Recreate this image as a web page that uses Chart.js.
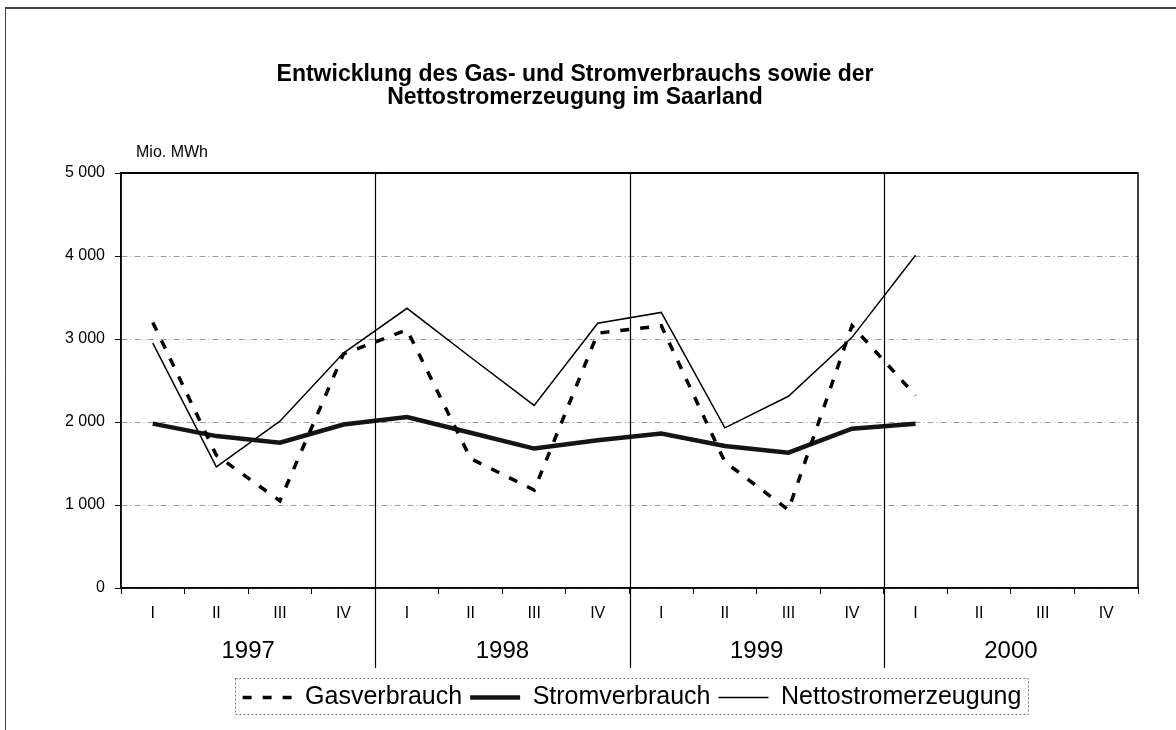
<!DOCTYPE html>
<html>
<head>
<meta charset="utf-8">
<script src="https://cdn.jsdelivr.net/npm/chart.js@4.4.1/dist/chart.umd.min.js"></script>
<style>
  html, body { margin: 0; padding: 0; background: #fff; }
  #wrap { width: 1176px; height: 730px; position: relative; }
</style>
</head>
<body>
<div id="wrap"><canvas id="c" width="1176" height="730"></canvas></div>
<script>
// ---- data ----
const QUARTERS = ['I','II','III','IV','I','II','III','IV','I','II','III','IV','I','II','III','IV'];
const YEARS = ['1997','1998','1999','2000'];
const Y_TICKS = [0, 1000, 2000, 3000, 4000, 5000];
const gasverbrauch = [3200, 1600, 1050, 2820, 3110, 1560, 1180, 3070, 3160, 1520, 940, 3160, 2320, null, null, null];
const stromverbrauch = [1980, 1830, 1750, 1970, 2060, 1870, 1680, 1780, 1860, 1710, 1630, 1920, 1980, null, null, null];
const nettostromerzeugung = [2950, 1460, 2010, 2830, 3370, 2780, 2200, 3190, 3320, 1930, 2310, 3020, 4010, null, null, null];
const TITLE = ['Entwicklung des Gas- und Stromverbrauchs sowie der', 'Nettostromerzeugung im Saarland'];
const UNIT = 'Mio. MWh';

const FONT = "'Liberation Sans', Arial, Helvetica, sans-serif";
const LEGEND_SHIFT = 57;

function fmt(v) { return String(v).replace(/\B(?=(\d{3})+$)/g, ' '); }

const decor = {
  id: 'decor',
  afterLayout(chart) {
    const lg = chart.legend;
    if (lg) { lg.left += LEGEND_SHIFT; lg.right += LEGEND_SHIFT; }
  },
  beforeDraw(chart) {
    const ctx = chart.ctx;
    ctx.save();
    ctx.fillStyle = '#fff';
    ctx.fillRect(0, 0, chart.width, chart.height);
    ctx.restore();
  },
  afterDraw(chart) {
    const ctx = chart.ctx, a = chart.chartArea, x = chart.scales.x;
    ctx.save();
    ctx.setLineDash([]);
    // plot border
    ctx.strokeStyle = '#000';
    ctx.lineWidth = 1.5;
    ctx.strokeRect(a.left, a.top, a.right - a.left, a.bottom - a.top);
    ctx.lineWidth = 2;
    ctx.beginPath();
    ctx.moveTo(a.left, a.top);
    ctx.lineTo(a.right, a.top);
    ctx.stroke();
    // year dividers
    ctx.lineWidth = 1.2;
    for (let i = 4; i < QUARTERS.length; i += 4) {
      const px = Math.round((x.getPixelForValue(i - 1) + x.getPixelForValue(i)) / 2) + 0.5;
      ctx.beginPath();
      ctx.moveTo(px, a.top);
      ctx.lineTo(px, 668);
      ctx.stroke();
    }
    // unit label
    ctx.fillStyle = '#000';
    ctx.font = '16px ' + FONT;
    ctx.textAlign = 'left';
    ctx.textBaseline = 'middle';
    ctx.fillText(UNIT, 136, 153);
    // outer frame
    ctx.strokeStyle = '#444';
    ctx.lineWidth = 1;
    ctx.beginPath();
    ctx.moveTo(5.5, 730);
    ctx.lineTo(5.5, 8.5);
    ctx.stroke();
    ctx.lineWidth = 2;
    ctx.beginPath();
    ctx.moveTo(5, 8);
    ctx.lineTo(1176, 8);
    ctx.stroke();
    // legend border
    const hb = chart.legend && chart.legend.legendHitBoxes;
    if (hb && hb.length) {
      let l = Infinity, r = -Infinity, t = Infinity, b = -Infinity;
      hb.forEach(h => { l = Math.min(l, h.left); r = Math.max(r, h.left + h.width); t = Math.min(t, h.top); b = Math.max(b, h.top + h.height); });
      ctx.strokeStyle = '#777';
      ctx.lineWidth = 1;
      ctx.setLineDash([2, 2]);
      ctx.strokeRect(Math.round(l - 8) + 0.5, Math.round(t - 7) + 0.5, Math.round(r - l + 14), Math.round(b - t + 11));
    }
    ctx.restore();
  }
};

new Chart(document.getElementById('c'), {
  type: 'line',
  data: {
    labels: QUARTERS,
    datasets: [
      { label: 'Gasverbrauch', data: gasverbrauch, borderColor: '#000', backgroundColor: '#000',
        borderWidth: 3.5, borderDash: [9, 11], pointRadius: 0, tension: 0 },
      { label: 'Stromverbrauch', data: stromverbrauch, borderColor: '#141414', backgroundColor: '#141414',
        borderWidth: 4.5, pointRadius: 0, tension: 0 },
      { label: 'Nettostromerzeugung', data: nettostromerzeugung, borderColor: '#000', backgroundColor: '#000',
        borderWidth: 1.5, pointRadius: 0, tension: 0 }
    ]
  },
  options: {
    responsive: false,
    animation: false,
    devicePixelRatio: 1,
    layout: { padding: { left: 12, right: 38, top: 0, bottom: 10 } },
    plugins: {
      title: {
        display: true, text: TITLE, color: '#000',
        font: { family: FONT, size: 23, weight: 'bold', lineHeight: 1.0 },
        padding: { top: 63, bottom: 64 }
      },
      legend: {
        display: true, position: 'bottom',
        labels: {
          color: '#000', font: { family: FONT, size: 25 },
          usePointStyle: true, pointStyle: 'line', pointStyleWidth: 50,
          boxHeight: 10, padding: 8,
          generateLabels(chart) {
            const items = Chart.defaults.plugins.legend.labels.generateLabels(chart);
            items.forEach(it => {
              const ds = chart.data.datasets[it.datasetIndex];
              it.lineDash = ds.borderDash || [];
              it.lineWidth = ds.borderWidth;
              it.strokeStyle = ds.borderColor;
            });
            return items;
          }
        }
      },
      tooltip: { enabled: false }
    },
    scales: {
      x: {
        type: 'category', position: 'bottom', offset: true,
        grid: { display: true, drawOnChartArea: false, drawTicks: true, tickLength: 6, color: '#000', offset: true },
        border: { display: true, color: '#000', width: 1.5 },
        ticks: { color: '#000', font: { family: FONT, size: 16 }, padding: 10, maxRotation: 0, autoSkip: false },
        afterFit(s) { s.height = 40; }
      },
      years: {
        type: 'category', labels: YEARS, position: 'bottom', offset: true, weight: 1,
        grid: { display: false, drawTicks: false },
        border: { display: false },
        ticks: { color: '#000', font: { family: FONT, size: 24 }, padding: 9, maxRotation: 0, autoSkip: false },
        afterFit(s) { s.height = 49; }
      },
      y: {
        min: 0, max: 5000,
        afterBuildTicks(s) { s.ticks = Y_TICKS.map(v => ({ value: v })); },
        grid: { color: '#9a9a9a', lineWidth: 1, tickLength: 6, tickColor: '#000', tickBorderDash: [] },
        border: { display: true, color: '#000', width: 1.5, dash: [6, 3, 1, 3] },
        ticks: { color: '#000', font: { family: FONT, size: 16 }, padding: 10, callback: v => fmt(v) },
        afterFit(s) { s.width = 109; }
      }
    }
  },
  plugins: [decor]
});
</script>
</body>
</html>
